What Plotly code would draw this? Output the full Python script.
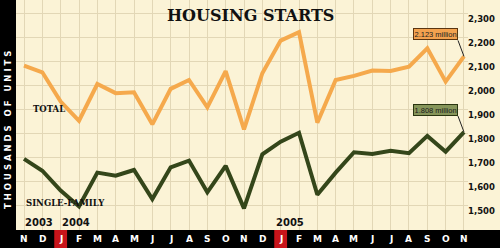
import plotly.graph_objects as go

months = ["N", "D", "J", "F", "M", "A", "M", "J", "J", "A", "S", "O", "N",
          "D", "J", "F", "M", "A", "M", "J", "J", "A", "S", "O", "N"]
total = [2085, 2057, 1935, 1855, 2008, 1970, 1974, 1840, 1988, 2025, 1911, 2062, 1819,
         2053, 2189, 2224, 1847, 2025, 2042, 2064, 2062, 2080, 2157, 2018, 2123]
single_family = [1696, 1647, 1564, 1498, 1639, 1626, 1650, 1529, 1661, 1689, 1557, 1667, 1490,
                 1715, 1768, 1805, 1547, 1639, 1724, 1717, 1730, 1720, 1792, 1726, 1808]
ytick_vals = [2300, 2200, 2100, 2000, 1900, 1800, 1700, 1600, 1500]
ytick_text = ["2,300", "2,200", "2,100", "2,000", "1,900", "1,800", "1,700", "1,600", "1,500"]
year_labels = [(0, "2003"), (2, "2004"), (14, "2005")]

W, H = 500, 248
BG = "#fbf3d6"
GRID = "#e2d7b6"
ORANGE = "#f5a94c"
GREEN = "#34461a"

x = list(range(len(months)))

fig = go.Figure()
fig.add_trace(go.Scatter(x=x, y=total, mode="lines",
                         line=dict(color=ORANGE, width=4), hoverinfo="skip"))
fig.add_trace(go.Scatter(x=x, y=single_family, mode="lines",
                         line=dict(color=GREEN, width=4), hoverinfo="skip"))

bar_h = 18 / H
left_w = 16 / W

shapes = [
    dict(type="rect", xref="paper", yref="paper", x0=0, x1=1, y0=0, y1=bar_h,
         fillcolor="black", line=dict(width=0), layer="above"),
    dict(type="rect", xref="paper", yref="paper", x0=0, x1=left_w, y0=0, y1=1,
         fillcolor="black", line=dict(width=0), layer="above"),
]
for i, m in enumerate(months):
    if m == "J" and (i == 2 or i == 14):
        shapes.append(dict(type="rect", xref="x", yref="paper", x0=i - 0.35, x1=i + 0.35,
                           y0=0, y1=bar_h, fillcolor="#c8141a", line=dict(width=0),
                           layer="above"))

annotations = []
for i, m in enumerate(months):
    annotations.append(dict(x=i, y=9 / H, xref="x", yref="paper", text=f"<b>{m}</b>",
                            showarrow=False, xanchor="center", yanchor="middle",
                            font=dict(family="DejaVu Sans", size=9, color="white")))
for v, t in zip(ytick_vals, ytick_text):
    annotations.append(dict(x=497 / W, y=v, xref="paper", yref="y", text=f"<b>{t}</b>",
                            showarrow=False, xanchor="right", yanchor="middle", yshift=-5,
                            font=dict(family="DejaVu Sans", size=8.5, color="#111")))
for i, t in year_labels:
    annotations.append(dict(x=i, y=1433, xref="x", yref="y", text=f"<b>{t}</b>",
                            showarrow=False, xanchor="left" if i != 14 else "center",
                            xshift=-1 if i != 14 else 9, yanchor="middle",
                            font=dict(family="DejaVu Sans", size=10, color="#111")))

annotations += [
    dict(x=0.5, y=1 - 15 / H, xref="paper", yref="paper", text="<b>HOUSING STARTS</b>",
         showarrow=False, xanchor="center", yanchor="middle",
         font=dict(family="DejaVu Serif", size=16, color="#111")),
    dict(x=8 / W, y=(248 - 130) / H, xref="paper", yref="paper",
         text="<b>T H O U S A N D S &nbsp; O F &nbsp; U N I T S</b>",
         showarrow=False, textangle=-90, xanchor="center", yanchor="middle",
         font=dict(family="DejaVu Sans", size=8.5, color="white")),
    dict(x=0.38, y=1904, xref="x", yref="y", text="<b>TOTAL</b>", showarrow=False,
         xanchor="left", yanchor="middle",
         font=dict(family="DejaVu Serif", size=8.5, color="#111")),
    dict(x=0, y=1514, xref="x", yref="y", text="<b>SINGLE-FAMILY</b>", showarrow=False,
         xanchor="left", yanchor="middle",
         font=dict(family="DejaVu Serif", size=8.5, color="#111")),
    dict(x=x[-1], y=total[-1], xref="x", yref="y",
         text=f"{total[-1] / 1000:.3f} million", showarrow=True, arrowhead=0,
         arrowwidth=1, arrowcolor="#222", ax=-6, ay=-16, xanchor="right", yanchor="bottom",
         bgcolor="#f2a24f", bordercolor="#5a3510", borderwidth=1, borderpad=0.5,
         font=dict(family="Liberation Sans", size=7.5, color="#222")),
    dict(x=x[-1], y=single_family[-1], xref="x", yref="y",
         text=f"{single_family[-1] / 1000:.3f} million", showarrow=True, arrowhead=0,
         arrowwidth=1, arrowcolor="#222", ax=-6, ay=-16, xanchor="right", yanchor="bottom",
         bgcolor="#86955a", bordercolor="#2a3510", borderwidth=1, borderpad=0.5,
         font=dict(family="Liberation Sans", size=7.5, color="#1a1a1a")),
]

x0 = -8 / 18.333
x1 = (468 - 24) / 18.333
fig.update_layout(
    width=W, height=H, margin=dict(l=0, r=0, t=0, b=0),
    paper_bgcolor=BG, plot_bgcolor=BG, showlegend=False,
    xaxis=dict(domain=[left_w, 468 / W], range=[x0, x1], dtick=1, tick0=0,
               showgrid=True, gridcolor=GRID, gridwidth=1, zeroline=False,
               showticklabels=False, ticks="", fixedrange=True),
    yaxis=dict(domain=[bar_h, 1], range=[1400, 2358], dtick=100, tick0=1400,
               showgrid=True, gridcolor=GRID, gridwidth=1, zeroline=False,
               showticklabels=False, ticks="", fixedrange=True),
    shapes=shapes, annotations=annotations,
)
fig.write_html("out.html")
